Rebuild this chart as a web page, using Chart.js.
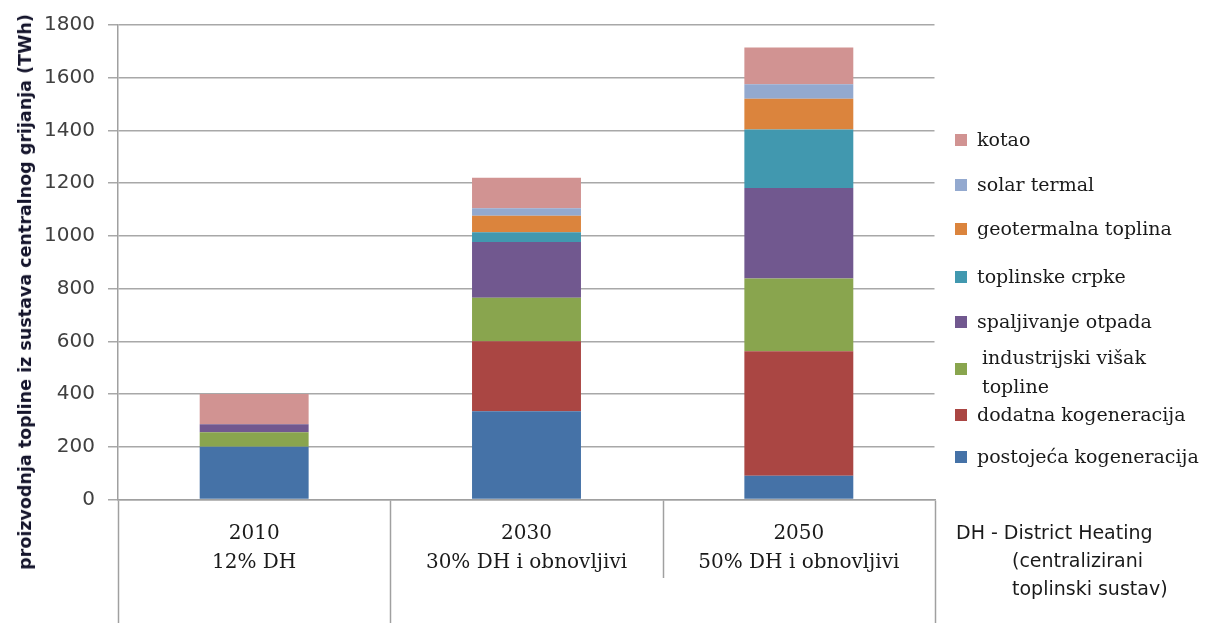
<!DOCTYPE html>
<html>
<head>
<meta charset="utf-8">
<script src="https://cdn.jsdelivr.net/npm/chart.js@4.4.0/dist/chart.umd.min.js"></script>
<style>
  html, body { margin: 0; padding: 0; background: #fff; }
  #wrap { width: 1210px; height: 623px; position: relative; }
  .txt { position: absolute; white-space: nowrap; line-height: 24px; color: #1a1a1a; }
  .leg { font: 19px "DejaVu Serif"; }
  .note { font: 19px "DejaVu Sans"; }
  .box { position: absolute; width: 12px; height: 12px; }
  #ytitle {
    position: absolute; left: 25px; top: 292px; white-space: nowrap;
    font: bold 17.5px "DejaVu Sans"; color: #14142b;
    transform: translate(-50%, -50%) rotate(-90deg);
  }
</style>
</head>
<body>
<div id="wrap">
  <canvas id="chart"></canvas>
  <div id="ytitle"></div>
  <div id="legend"></div>
</div>
<script>
// Categories (x axis, two lines each)
const categories = [
  ['2010', '12% DH'],
  ['2030', '30% DH i obnovljivi'],
  ['2050', '50% DH i obnovljivi']
];

// Series values in TWh (bottom to top of the stack)
const postojecaKogeneracija = [200, 335, 90];
const dodatnaKogeneracija = [0, 265, 472];
const industrijskiVisak = [55, 165, 276];
const spaljivanjeOtpada = [30, 212, 344];
const toplinskeCrpke = [0, 37, 222];
const geotermalnaToplina = [0, 62, 116];
const solarTermal = [0, 29, 55];
const kotao = [115, 116, 140];

// Y axis ticks
const yMin = 0;
const yMax = 1800;
const yStep = 200;

const yTitle = 'proizvodnja topline iz sustava centralnog grijanja (TWh)';
const dhNote = ['DH - District Heating', '(centralizirani', 'toplinski sustav)'];

// Legend row positions (top to bottom), layout only
const legendRows = [
  { y: 140 }, { y: 185 }, { y: 229 }, { y: 277 },
  { y: 322 }, { y: 358, y2: 387, box: 369, indent: 5 }, { y: 415 }, { y: 457 }
];

// Category separators below the x axis; the plot has no right-hand frame line
const separators = {
  id: 'separators',
  afterDraw(chart) {
    const ctx = chart.ctx;
    const x = chart.scales.x;
    const area = chart.chartArea;
    const half = (x.getPixelForValue(1) - x.getPixelForValue(0)) / 2;
    const ends = [623, 623, 578, 623];
    ctx.save();
    // keep the right edge of the plot open, like the original
    ctx.fillStyle = '#ffffff';
    ctx.fillRect(area.right - 0.5, area.top - 2, 4, area.bottom - area.top + 1);
    ctx.strokeStyle = '#a0a0a0';
    ctx.lineWidth = 1.5;
    for (let i = 0; i <= categories.length; i++) {
      const px = Math.round(x.getPixelForValue(i) - half) + 0.5;
      ctx.beginPath();
      ctx.moveTo(px, area.bottom + 1);
      ctx.lineTo(px, ends[i]);
      ctx.stroke();
    }
    ctx.restore();
  }
};

function series(label, data, color) {
  return {
    label: label,
    data: data,
    backgroundColor: color,
    borderWidth: 0,
    barPercentage: 0.4,
    categoryPercentage: 1
  };
}

const ctx = document.getElementById('chart').getContext('2d');
const chart = new Chart(ctx, {
  type: 'bar',
  data: {
    labels: categories,
    datasets: [
      series('postojeća kogeneracija', postojecaKogeneracija, '#4572a7'),
      series('dodatna kogeneracija', dodatnaKogeneracija, '#aa4643'),
      series('industrijski višak\ntopline', industrijskiVisak, '#89a54e'),
      series('spaljivanje otpada', spaljivanjeOtpada, '#71588f'),
      series('toplinske crpke', toplinskeCrpke, '#4198af'),
      series('geotermalna toplina', geotermalnaToplina, '#db843d'),
      series('solar termal', solarTermal, '#93a9cf'),
      series('kotao', kotao, '#d19392')
    ]
  },
  options: {
    responsive: true,
    maintainAspectRatio: false,
    animation: false,
    layout: {
      padding: { top: 24, right: 275, bottom: 0, left: 0 }
    },
    plugins: {
      legend: { display: false },
      title: { display: false },
      tooltip: { enabled: false }
    },
    scales: {
      x: {
        stacked: true,
        afterFit(scale) { scale.height = 123.5; },
        grid: { display: false, color: 'rgba(0,0,0,0)', drawOnChartArea: false, drawTicks: false },
        border: { display: true, color: '#a0a0a0', width: 1.5 },
        ticks: {
          padding: 20,
          color: '#1a1a1a',
          maxRotation: 0,
          font: { family: 'DejaVu Serif', size: 20, lineHeight: 1.44 }
        }
      },
      y: {
        stacked: true,
        min: yMin,
        max: yMax,
        afterFit(scale) { scale.width = 118; },
        grid: { color: '#a8a8a8', lineWidth: 1.5, tickLength: 10 },
        border: { display: true, color: '#a0a0a0', width: 1.5 },
        ticks: {
          stepSize: yStep,
          padding: 13,
          color: '#404040',
          font: { family: 'DejaVu Sans', size: 20 },
          callback: (value) => String(value)
        }
      }
    }
  },
  plugins: [separators]
});

// HTML legend built from the chart datasets, reversed like the original
const legend = document.getElementById('legend');
function addText(cls, text, left, centerY) {
  const el = document.createElement('div');
  el.className = 'txt ' + cls;
  el.textContent = text;
  el.style.left = left + 'px';
  el.style.top = (centerY - 12) + 'px';
  legend.appendChild(el);
}
chart.data.datasets.slice().reverse().forEach((ds, i) => {
  const row = legendRows[i];
  const lines = ds.label.split('\n');
  const box = document.createElement('div');
  box.className = 'box';
  box.style.background = ds.backgroundColor;
  box.style.left = '955px';
  box.style.top = ((row.box !== undefined ? row.box : row.y) - 6) + 'px';
  legend.appendChild(box);
  const tx = 977 + (row.indent || 0);
  addText('leg', lines[0], tx, row.y);
  if (lines[1]) addText('leg', lines[1], tx, row.y2);
});
addText('note', dhNote[0], 956, 533);
addText('note', dhNote[1], 1012, 561);
addText('note', dhNote[2], 1012, 589);
document.getElementById('ytitle').textContent = yTitle;
</script>
</body>
</html>
